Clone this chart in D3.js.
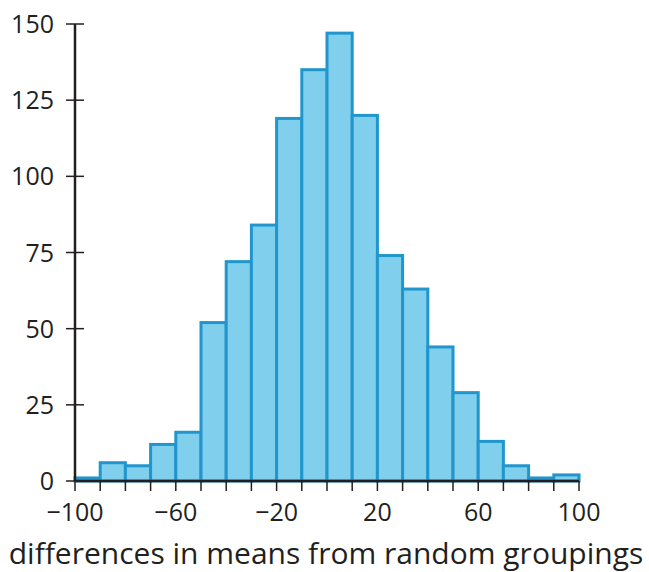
<!DOCTYPE html>
<html>
<head>
  <meta charset="utf-8">
  <script src="https://d3js.org/d3.v7.min.js"></script>
  <style>
    body { margin: 0; background: #fff; }
    text { font-family: "Open Sans", sans-serif; fill: #231f20; }
  </style>
</head>
<body>
  <script>
    // bin edges (width 10) and counts
    const binStarts = [-100, -90, -80, -70, -60, -50, -40, -30, -20, -10, 0, 10, 20, 30, 40, 50, 60, 70, 80, 90];
    const counts = [1, 6, 5, 12, 16, 52, 72, 84, 119, 135, 147, 120, 74, 63, 44, 29, 13, 5, 1, 2];
    const binWidth = 10;
    const xLabels = [-100, -60, -20, 20, 60, 100];
    const yTicks = [0, 25, 50, 75, 100, 125, 150];
    const xTitle = "differences in means from random groupings";

    const width = 649, height = 572;
    const margin = { top: 24, right: 70, bottom: 91, left: 75 };

    const svg = d3.select("body").append("svg")
      .attr("width", width)
      .attr("height", height);

    const x = d3.scaleLinear().domain([-100, 100]).range([margin.left, width - margin.right]);
    const y = d3.scaleLinear().domain([0, 150]).range([height - margin.bottom, margin.top]);

    const bins = binStarts.map((s, i) => ({ x0: s, x1: s + binWidth, n: counts[i] }));

    // bars
    svg.append("g").selectAll("rect")
      .data(bins)
      .enter().append("rect")
      .attr("x", d => x(d.x0))
      .attr("y", d => y(d.n))
      .attr("width", d => x(d.x1) - x(d.x0))
      .attr("height", d => y(0) - y(d.n))
      .attr("fill", "#80cfec")
      .attr("stroke", "#2196cc")
      .attr("stroke-width", 3);

    // y axis
    const yAxis = svg.append("g");
    yAxis.append("line")
      .attr("x1", x(-100)).attr("x2", x(-100))
      .attr("y1", y(0)).attr("y2", y(150))
      .attr("stroke", "#231f20").attr("stroke-width", 2.5);
    yAxis.selectAll(".yt")
      .data(yTicks)
      .enter().append("line")
      .attr("x1", x(-100) - 9).attr("x2", x(-100) + 9)
      .attr("y1", d => y(d)).attr("y2", d => y(d))
      .attr("stroke", "#231f20").attr("stroke-width", 1.5);
    yAxis.selectAll(".yl")
      .data(yTicks)
      .enter().append("text")
      .attr("x", x(-100) - 21)
      .attr("y", d => y(d))
      .attr("dy", "0.36em")
      .attr("text-anchor", "end")
      .attr("font-size", 25)
      .text(d => d);

    // x axis
    const xAxis = svg.append("g");
    const edges = binStarts.concat([binStarts[binStarts.length - 1] + binWidth]);
    xAxis.selectAll(".xt")
      .data(edges)
      .enter().append("line")
      .attr("x1", d => x(d)).attr("x2", d => x(d))
      .attr("y1", y(0)).attr("y2", y(0) + 10)
      .attr("stroke", "#231f20").attr("stroke-width", 1.5);
    xAxis.append("line")
      .attr("x1", x(-100)).attr("x2", x(100))
      .attr("y1", y(0)).attr("y2", y(0))
      .attr("stroke", "#231f20").attr("stroke-width", 2.5);
    xAxis.selectAll(".xl")
      .data(xLabels)
      .enter().append("text")
      .attr("x", d => x(d))
      .attr("y", y(0) + 40)
      .attr("text-anchor", "middle")
      .attr("font-size", 25)
      .text(d => d < 0 ? "\u2212" + Math.abs(d) : d);

    svg.append("text")
      .attr("x", 326)
      .attr("y", 564)
      .attr("text-anchor", "middle")
      .attr("font-size", 30)
      .text(xTitle);
  </script>
</body>
</html>
